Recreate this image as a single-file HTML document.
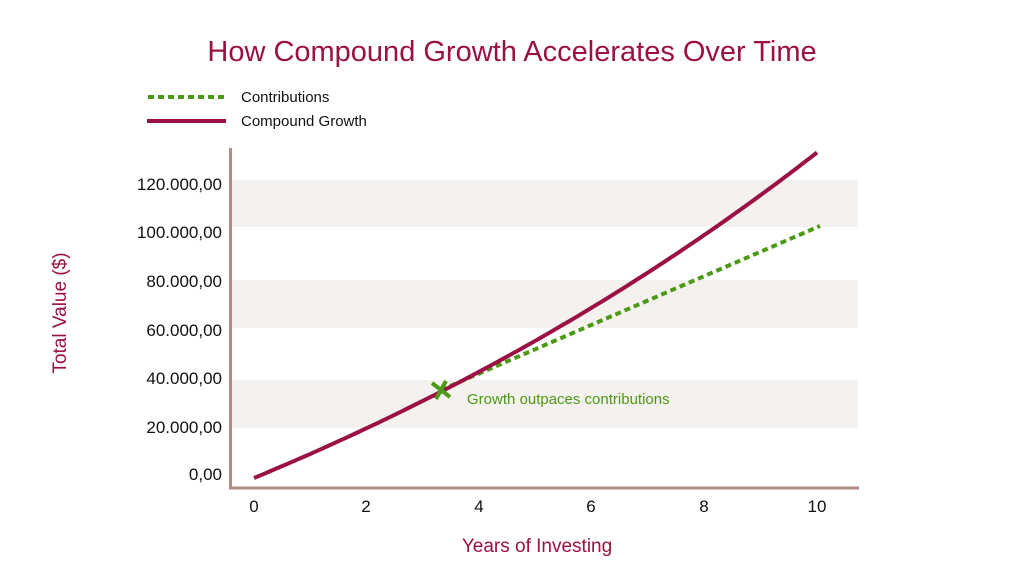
<!DOCTYPE html>
<html><head><meta charset="utf-8"><style>
html,body{margin:0;padding:0;background:#fff;}
svg{display:block;font-family:"Liberation Sans",sans-serif;}
</style></head><body>
<svg id="s" width="1024" height="576" viewBox="0 0 1024 576">
<text x="512" y="61" text-anchor="middle" font-size="29" fill="#9b1045">How Compound Growth Accelerates Over Time</text>
<line x1="148" y1="97" x2="226" y2="97" stroke="#4a9a14" stroke-width="4" stroke-dasharray="6,4"/>
<line x1="147" y1="121" x2="226" y2="121" stroke="#9b1045" stroke-width="4"/>
<text x="241" y="102" font-size="15" fill="#111">Contributions</text>
<text x="241" y="126" font-size="15" fill="#111">Compound Growth</text>
<rect x="232" y="180" width="626" height="47" fill="#f5f1ee"/>
<rect x="232" y="280" width="626" height="48" fill="#f5f1ee"/>
<rect x="232" y="380" width="626" height="48" fill="#f5f1ee"/>
<line x1="230.5" y1="148" x2="230.5" y2="489" stroke="#b48a80" stroke-width="3"/>
<line x1="229" y1="488" x2="859" y2="488" stroke="#b48a80" stroke-width="3"/>
<g font-size="17" fill="#111" text-anchor="end">
<text x="222" y="190">120.000,00</text>
<text x="222" y="238">100.000,00</text>
<text x="222" y="287">80.000,00</text>
<text x="222" y="336">60.000,00</text>
<text x="222" y="384">40.000,00</text>
<text x="222" y="433">20.000,00</text>
<text x="222" y="480">0,00</text>
</g>
<g font-size="17" fill="#111" text-anchor="middle">
<text x="254" y="512">0</text><text x="366" y="512">2</text><text x="479" y="512">4</text>
<text x="591" y="512">6</text><text x="704" y="512">8</text><text x="817" y="512">10</text>
</g>
<text x="537" y="552" text-anchor="middle" font-size="19" fill="#9b1045">Years of Investing</text>
<text transform="translate(66,313) rotate(-90)" text-anchor="middle" font-size="19" fill="#9b1045">Total Value ($)</text>
<line x1="441" y1="390" x2="820" y2="226" stroke="#4a9a14" stroke-width="4" stroke-dasharray="6,4"/>
<path id="cg" fill="none" stroke="#9b1045" stroke-width="4"/>
<g stroke="#4a9a14" stroke-width="4"><line x1="432" y1="383" x2="450" y2="397"/><line x1="436" y1="399" x2="446" y2="381"/></g>
<text x="467" y="404" font-size="15" fill="#4a9a14">Growth outpaces contributions</text>
</svg>
<script>
var d="";for(var i=0;i<=100;i++){var t=i/10;var v=9785*(Math.pow(1.065,t)-1)/0.065;
var x=254+t*56.3,y=478-v/20000*49.3;d+=(i?"L":"M")+x.toFixed(1)+","+y.toFixed(1);}
document.getElementById("cg").setAttribute("d",d);
</script>
</body></html>
